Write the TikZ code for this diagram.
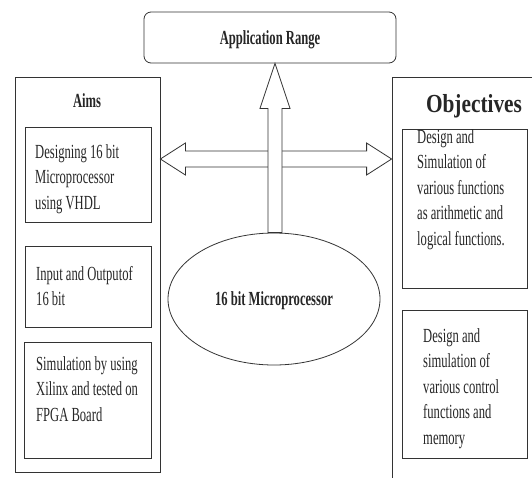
\documentclass[tikz,border=0pt]{standalone}
\usepackage{fontspec}
\setmainfont[FakeStretch=0.63]{Liberation Serif}
\newfontfamily\objfont[FakeStretch=0.82]{Liberation Serif}
\usepackage{tikz}
\usetikzlibrary{shapes.geometric,calc}

\begin{document}
\begin{tikzpicture}[x=1pt,y=-1pt,
    box/.style={draw=black!80,line width=0.8pt,inner sep=0pt},
    txt/.style={inner sep=0pt,anchor=north west,align=left,text=black!85,font=\fontsize{20}{25.5}\selectfont},
    ttl/.style={inner sep=0pt,anchor=base,text=black!85,font=\bfseries\fontsize{20}{25.5}\selectfont},
    blockarrow/.style={draw=black!80,line width=0.8pt,fill=white,line join=miter}]
    \useasboundingbox (0,0) rectangle (532,477);
    \clip (0,0) rectangle (532,477);

    \node[box,rounded corners=7,minimum width=252,minimum height=51,text=black!85,
          font=\bfseries\fontsize{20}{25.5}\selectfont,text depth=0pt] (app) at (270,37.5) {Application Range};

    \node[box,minimum width=145,minimum height=395] (aims) at (87.5,274.5) {};
    \node[ttl] (aimst) at (87,107) {Aims};
    \node[box,minimum width=126,minimum height=95] (a1) at (88,174.5) {};
    \node[box,minimum width=126,minimum height=81] (a2) at (88,286.5) {};
    \node[box,minimum width=127,minimum height=116] (a3) at (87.5,400) {};
    \node[txt] (a1t) at (35,140.15) {\strut Designing 16 bit\\Microprocessor\\using VHDL};
    \node[txt] (a2t) at (36,262.15) {\strut Input and Outputof\\16 bit};
    \node[txt] (a3t) at (36,352.15) {\strut Simulation by using\\Xilinx and tested on\\FPGA Board};

    \node[box,minimum width=168,minimum height=423] (obj) at (476,288.5) {};
    \node[ttl,font=\objfont\bfseries\fontsize{26}{30}\selectfont] (objt) at (474,112) {Objectives};
    \node[box,minimum width=125,minimum height=159] (o1) at (464.5,208.5) {};
    \node[box,minimum width=125,minimum height=148] (o2) at (464.5,384) {};
    \node[txt] (o1t) at (417,125.15) {\strut Design and\\Simulation of\\various functions\\as arithmetic and\\logical functions.};
    \node[txt] (o2t) at (423,324.15) {\strut Design and\\simulation of\\various control\\functions and\\memory};

    \node[box,ellipse,minimum width=212,minimum height=132,text=black!85,
          font=\bfseries\fontsize{20}{25.5}\selectfont,text depth=0pt] (mp) at (274,299) {16 bit Microprocessor};

    \coordinate (hl) at (aims.east |- 0,159);
    \coordinate (hr) at (obj.west |- 0,159);
    \draw[blockarrow] (hl) -- ++(25,-16) -- ++(0,8) -- ($(hr)+(-25,-8)$) -- ++(0,-8) -- (hr)
        -- ++(-25,16) -- ++(0,-8) -- ($(hl)+(25,8)$) -- ++(0,8) -- cycle;

    \coordinate (vt) at (app.south -| 275,0);
    \coordinate (vb) at (mp.north -| 275,0);
    \draw[blockarrow] (vt) -- ++(15,45) -- ++(-8,0) -- ($(vb)+(7,0)$) -- ++(-14,0)
        -- ($(vt)+(-7,45)$) -- ++(-8,0) -- cycle;
\end{tikzpicture}
\end{document}
